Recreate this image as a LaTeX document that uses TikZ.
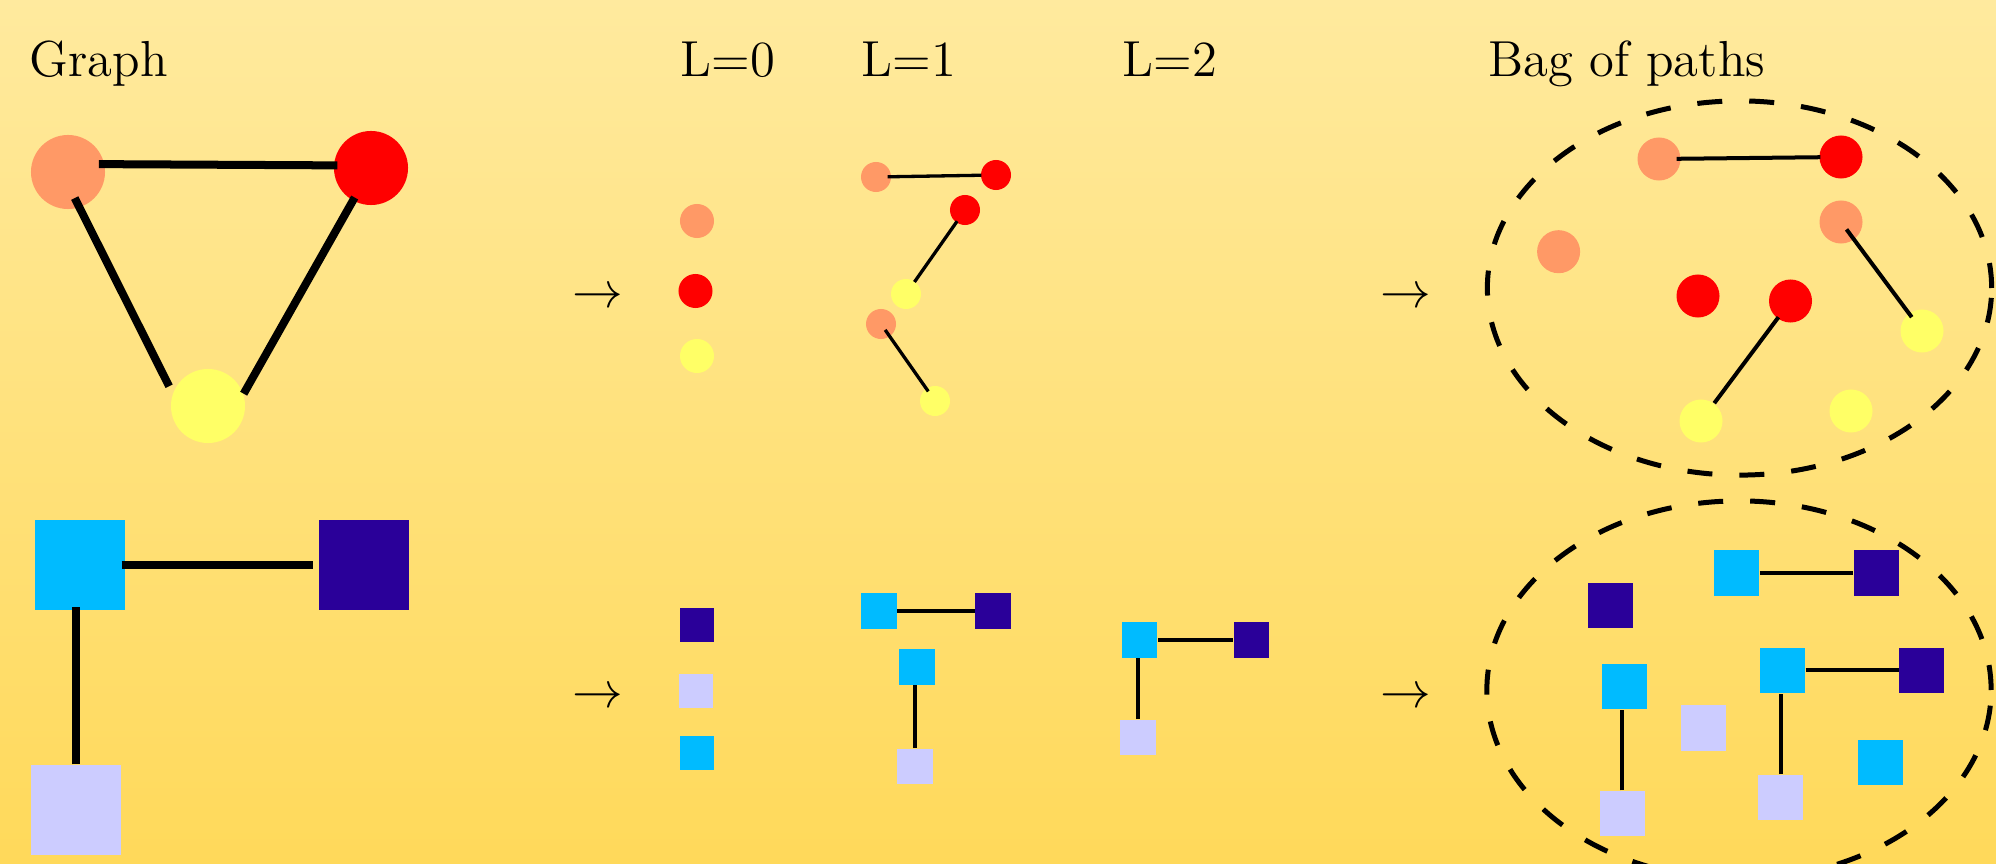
\documentclass[tikz,border=0pt]{standalone}
\usetikzlibrary{calc}
\definecolor{salmon}{HTML}{FF9966}
\definecolor{redn}{HTML}{FF0000}
\definecolor{yel}{HTML}{FFFF66}
\definecolor{cyanb}{HTML}{00BBFF}
\definecolor{purp}{HTML}{2A0099}
\definecolor{lav}{HTML}{CCCCFF}
\definecolor{bgtop}{RGB}{255,234,158}
\definecolor{bgbot}{RGB}{255,217,90}
\tikzset{
  gc/.style={circle, inner sep=0pt, minimum size=#1},
  sq/.style={rectangle, inner sep=0pt, minimum size=#1},
  thickedge/.style={line width=0.08cm},
  sqedge/.style={line width=0.088cm},
  thinedge/.style={line width=0.033cm},
  bagedge/.style={line width=0.04cm},
  bagline/.style={draw=black, dash pattern=on 0.25cm off 0.27cm, line width=0.05cm},
  lbl/.style={anchor=base west, inner sep=0pt, font=\fontsize{14.4}{17}\selectfont},
  arr/.style={inner sep=0pt, font=\fontsize{14.4}{17}\selectfont}
}
\begin{document}
\begin{tikzpicture}[x=0.01cm, y=-0.01cm]
\useasboundingbox (0,0) rectangle (1996,864);
\clip (0,0) rectangle (1996,864);
\fill[top color=bgtop, bottom color=bgbot] (0,0) rectangle (1996,864);

% headers
\node[lbl] (hg) at (29,77) {Graph};
\node[lbl] (h0) at (680,77) {L=0};
\node[lbl] (h1) at (861,77) {L=1};
\node[lbl] (h2) at (1122,77) {L=2};
\node[lbl] (hb) at (1488,77) {Bag of paths};

% arrows
\node[arr] (a1) at (598,298) {$\rightarrow$};
\node[arr] (a2) at (598,698) {$\rightarrow$};
\node[arr] (a3) at (1406,298) {$\rightarrow$};
\node[arr] (a4) at (1406,698) {$\rightarrow$};

% ---- big graph (circles)
\node[gc=0.74cm, fill=salmon] (S) at (68,172) {};
\node[gc=0.74cm, fill=redn] (R) at (371,168) {};
\node[gc=0.74cm, fill=yel] (Y) at (208,406) {};
\draw[thickedge, shorten <=-0.06cm, shorten >=-0.04cm] (S.12) -- (R.176);
\draw[thickedge, shorten <=-0.11cm, shorten >=0.076cm] (S.-72) -- (Y.160);
\draw[thickedge, shorten <=-0.04cm] (R.-119) -- (Y.19);

% ---- big graph (squares)
\node[sq=0.9cm, fill=cyanb] (C) at (80,565) {};
\node[sq=0.9cm, fill=purp] (P) at (364,565) {};
\node[sq=0.9cm, fill=lav] (L) at (76,810) {};
\draw[sqedge, shorten <=-0.04cm, shorten >=0.05cm] (C.east) -- (P.west);
\draw[sqedge, shorten >=-0.04cm] (L.north) -- (L.north |- C.south);

% ---- L=0 circles
\node[gc=0.34cm, fill=salmon] (z1) at (697,221) {};
\node[gc=0.34cm, fill=redn] (z2) at (695.5,291) {};
\node[gc=0.34cm, fill=yel] (z3) at (697,356) {};
% ---- L=0 squares
\node[sq=0.346cm, fill=purp] (q1) at (697,625) {};
\node[sq=0.346cm, fill=lav] (q2) at (696,691) {};
\node[sq=0.346cm, fill=cyanb] (q3) at (697,753) {};

% ---- L=1 circles
\node[gc=0.30cm, fill=salmon] (o1) at (876,177) {};
\node[gc=0.30cm, fill=redn] (o2) at (996,175) {};
\node[gc=0.30cm, fill=redn] (o3) at (965,210) {};
\node[gc=0.30cm, fill=yel] (o4) at (906,294) {};
\node[gc=0.30cm, fill=salmon] (o5) at (881,324) {};
\node[gc=0.30cm, fill=yel] (o6) at (935,401) {};
\draw[thinedge, shorten <=-0.04cm, shorten >=-0.01cm] (o1) -- (o2);
\draw[thinedge, shorten <=-0.02cm, shorten >=-0.01cm] (o3) -- (o4);
\draw[thinedge, shorten <=-0.085cm, shorten >=-0.04cm] (o5) -- (o6);

% ---- L=1 squares
\node[sq=0.355cm, fill=cyanb] (p1) at (879,611) {};
\node[sq=0.355cm, fill=purp] (p2) at (993,611) {};
\node[sq=0.355cm, fill=cyanb] (p3) at (917,667) {};
\node[sq=0.355cm, fill=lav] (p4) at (915,766.5) {};
\draw[thinedge] (p1.east) -- (p2.west);
\draw[thinedge] (p4.north) -- (p4.north |- p3.south);

% ---- L=2 squares
\node[sq=0.355cm, fill=cyanb] (r1) at (1139.6,640) {};
\node[sq=0.355cm, fill=purp] (r2) at (1251.7,640) {};
\node[sq=0.355cm, fill=lav] (r3) at (1138,737.5) {};
\draw[thinedge] (r1.east) -- (r2.west);
\draw[thinedge] (r3.north) -- (r3.north |- r1.south);

% ---- bag of paths (circles)
\draw[bagline] (1739.5,288) ellipse [x radius=2.52cm, y radius=1.87cm];
\node[gc=0.43cm, fill=salmon] (b1) at (1659,159) {};
\node[gc=0.43cm, fill=redn] (b2) at (1841,157) {};
\node[gc=0.43cm, fill=salmon] (b3) at (1558.6,251.7) {};
\node[gc=0.43cm, fill=salmon] (b4) at (1841,222) {};
\node[gc=0.43cm, fill=redn] (b5) at (1698,296) {};
\node[gc=0.43cm, fill=redn] (b6) at (1790.5,301) {};
\node[gc=0.43cm, fill=yel] (b7) at (1922,331) {};
\node[gc=0.43cm, fill=yel] (b8) at (1701,421) {};
\node[gc=0.43cm, fill=yel] (b9) at (1851,411) {};
\draw[bagedge, shorten <=-0.045cm, shorten >=-0.015cm] (b1) -- (b2);
\draw[bagedge, shorten <=-0.13cm, shorten >=-0.05cm] (b4) -- (b7);
\draw[bagedge, shorten <=-0.02cm] (b6) -- (b8);

% ---- bag of paths (squares)
\draw[bagline] (1739,690) ellipse [x radius=2.52cm, y radius=1.89cm];
\node[sq=0.45cm, fill=cyanb] (s1) at (1736.7,573) {};
\node[sq=0.45cm, fill=purp] (s2) at (1876,573) {};
\node[sq=0.45cm, fill=purp] (s3) at (1610.7,605.3) {};
\node[sq=0.45cm, fill=cyanb] (s4) at (1624,686.3) {};
\node[sq=0.45cm, fill=lav] (s5) at (1622,813.7) {};
\node[sq=0.45cm, fill=lav] (s6) at (1703.7,728) {};
\node[sq=0.45cm, fill=cyanb] (s7) at (1782.3,670.3) {};
\node[sq=0.45cm, fill=purp] (s8) at (1921.8,670.3) {};
\node[sq=0.45cm, fill=lav] (s9) at (1780.6,797.3) {};
\node[sq=0.45cm, fill=cyanb] (s10) at (1880.4,762.5) {};
\draw[bagedge] (s1.east) -- (s2.west);
\draw[bagedge] (s5.north) -- (s5.north |- s4.south);
\draw[bagedge] (s7.east) -- (s8.west);
\draw[bagedge] (s9.north) -- (s9.north |- s7.south);
\end{tikzpicture}
\end{document}
